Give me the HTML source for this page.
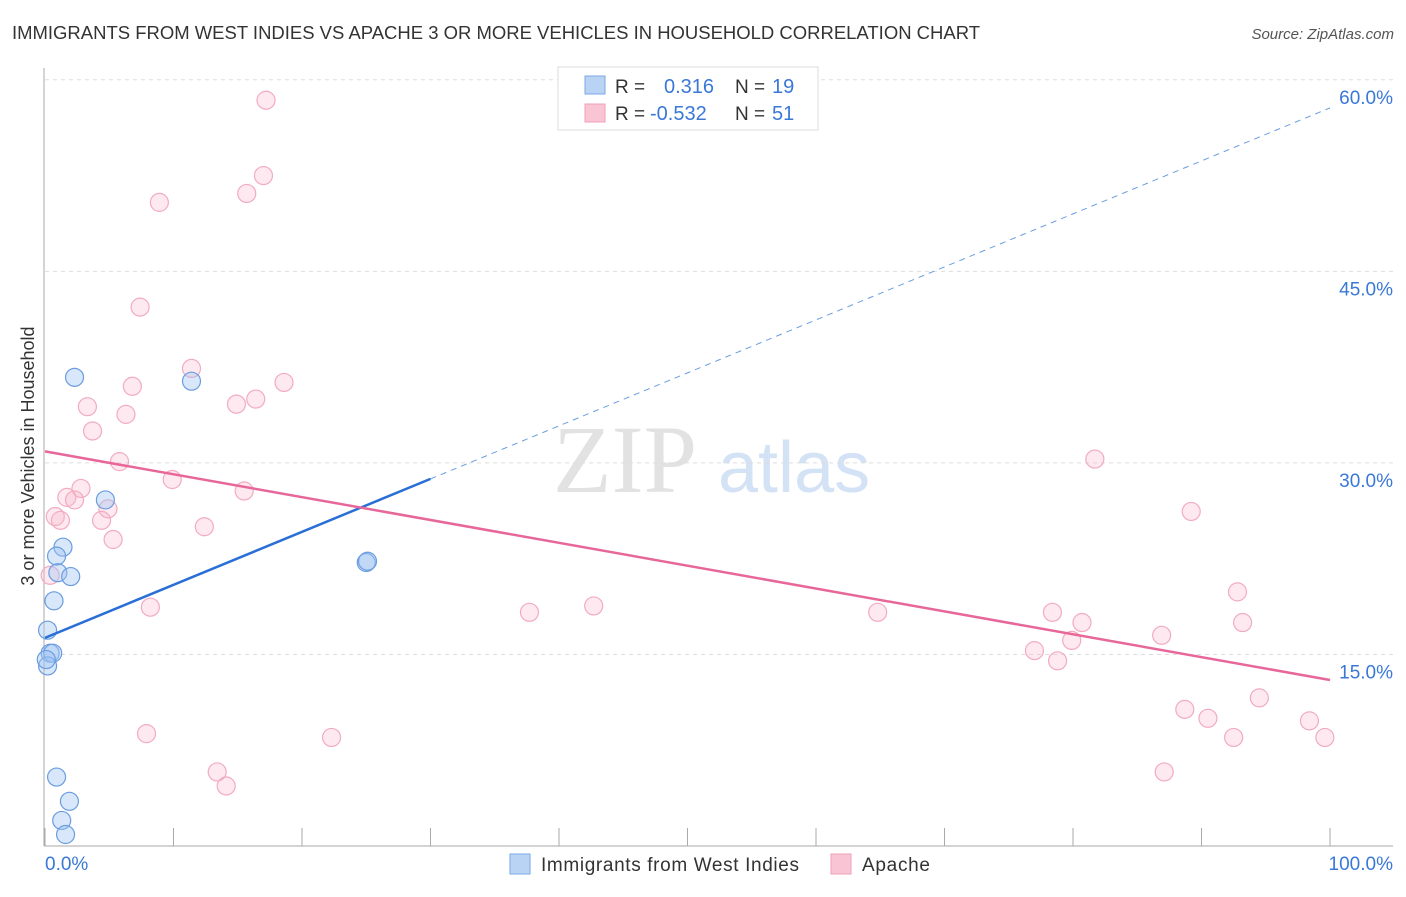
<!DOCTYPE html>
<html><head><meta charset="utf-8"><style>
body{margin:0;background:#fff;font-family:"Liberation Sans",sans-serif;}
</style></head><body>
<svg width="1406" height="892" viewBox="0 0 1406 892" xmlns="http://www.w3.org/2000/svg" font-family="Liberation Sans, sans-serif">
<text x="12" y="39" font-size="18" fill="#333" textLength="968" lengthAdjust="spacingAndGlyphs">IMMIGRANTS FROM WEST INDIES VS APACHE 3 OR MORE VEHICLES IN HOUSEHOLD CORRELATION CHART</text>
<text x="1394" y="39" font-size="15" fill="#555" text-anchor="end" font-style="italic">Source: ZipAtlas.com</text>
<text x="0" y="0" transform="translate(34,456) rotate(-90)" font-size="18" fill="#333" text-anchor="middle">3 or more Vehicles in Household</text>
<g><text x="553" y="492" font-size="96" font-family="Liberation Serif, serif" fill="#e2e2e2">ZIP</text><text x="718" y="492" font-size="72" fill="#d3e2f5">atlas</text></g>
<g id="grid"></g><g id="axes"></g><g id="marks"></g><g id="lines"></g>
<g>
<rect x="558" y="67" width="260" height="63" fill="#fff" stroke="#ddd"/>
<rect x="585" y="76" width="20" height="18" fill="#b9d3f5" stroke="#7aa7e6"/>
<rect x="585" y="104" width="20" height="18" fill="#f9c4d4" stroke="#f0a0b8"/>
<text x="615" y="93" font-size="19" fill="#333">R = </text><text x="664" y="93" font-size="20" fill="#3a78d8">0.316</text>
<text x="735" y="93" font-size="19" fill="#333">N = </text><text x="772" y="93" font-size="20" fill="#3a78d8">19</text>
<text x="615" y="120" font-size="19" fill="#333">R = </text><text x="650" y="120" font-size="20" fill="#3a78d8">-0.532</text>
<text x="735" y="120" font-size="19" fill="#333">N = </text><text x="772" y="120" font-size="20" fill="#3a78d8">51</text>
</g>
<g>
<rect x="510" y="854" width="20" height="20" fill="#b9d3f5" stroke="#7aa7e6"/>
<text x="541" y="871" font-size="19" fill="#333" textLength="258">Immigrants from West Indies</text>
<rect x="831" y="854" width="20" height="20" fill="#f9c4d4" stroke="#f0a0b8"/>
<text x="862" y="871" font-size="19" fill="#333" textLength="68">Apache</text>
</g>
</svg>
<script>
const xTicks=[0,10,20,30,40,50,60,70,80,90,100];
const yTicks=[15,30,45,60];
const yTickLabels=["15.0%","30.0%","45.0%","60.0%"];
const blueX=[2.3,11.4,4.7,1.4,0.9,1.0,2.0,0.7,0.2,0.4,0.6,0.2,25.0,25.1,0.9,1.9,1.3,1.6,0.1];
const blueY=[36.7,36.4,27.1,23.4,22.7,21.4,21.1,19.2,16.9,15.1,15.1,14.1,22.2,22.3,5.4,3.5,2.0,0.9,14.6];
const pinkX=[17.2,17.0,15.7,8.9,7.4,11.4,6.8,3.3,6.3,16.4,14.9,18.6,3.7,5.8,9.9,15.5,2.8,1.7,2.3,4.9,0.8,1.2,4.4,12.4,5.3,0.4,8.2,37.7,42.7,64.8,81.7,89.2,92.8,78.4,80.7,93.2,79.9,77.0,86.9,78.8,94.5,88.7,90.5,98.4,92.5,99.6,87.1,7.9,22.3,13.4,14.1];
const pinkY=[58.4,52.5,51.1,50.4,42.2,37.4,36.0,34.4,33.8,35.0,34.6,36.3,32.5,30.1,28.7,27.8,28.0,27.3,27.1,26.4,25.8,25.5,25.5,25.0,24.0,21.2,18.7,18.3,18.8,18.3,30.3,26.2,19.9,18.3,17.5,17.5,16.1,15.3,16.5,14.5,11.6,10.7,10.0,9.8,8.5,8.5,5.8,8.8,8.5,5.8,4.7];
const blueTrend=[16.3,57.8]; const blueSolidEnd=30;
const pinkTrend=[30.9,13.0];
const NS="http://www.w3.org/2000/svg";
const X=v=>45+v*12.85, Y=v=>846-v*12.77;
function mk(t,a,p){const e=document.createElementNS(NS,t);for(const k in a)e.setAttribute(k,a[k]);p.appendChild(e);return e;}
const grid=document.getElementById('grid'),axes=document.getElementById('axes'),marks=document.getElementById('marks'),lines=document.getElementById('lines');
yTicks.forEach((t,i)=>{
 const g=mk('line',{x1:45,x2:1393,y1:Y(t),y2:Y(t),stroke:'#ddd','stroke-dasharray':'4,4'},grid);
 
 
 const l=mk('text',{x:1393,y:Y(t)+24,'font-size':19,fill:'#3a78d8','text-anchor':'end'},axes);l.textContent=yTickLabels[i];
 
 
});
const ax=mk('line',{x1:44,x2:44,y1:68,y2:846,stroke:'#aaa'},axes);


const bx=mk('line',{x1:44,x2:1393,y1:846,y2:846,stroke:'#aaa'},axes);


xTicks.forEach(t=>{const l=mk('line',{x1:X(t),x2:X(t),y1:828,y2:846,stroke:'#aaa'},axes);
 
 });
const x0=mk('text',{x:45,y:870,'font-size':19,fill:'#3a78d8'},axes);x0.textContent='0.0%';


const x1=mk('text',{x:1393,y:870,'font-size':19,fill:'#3a78d8','text-anchor':'end'},axes);x1.textContent='100.0%';


pinkX.forEach((v,i)=>{const c=mk('circle',{cx:X(v),cy:Y(pinkY[i]),r:9,fill:'rgba(248,182,202,0.3)',stroke:'#f2abc1','stroke-width':1.2},marks);
 
 });
blueX.forEach((v,i)=>{const c=mk('circle',{cx:X(v),cy:Y(blueY[i]),r:9,fill:'rgba(160,196,242,0.4)',stroke:'#6a9de0','stroke-width':1.2},marks);
 
 });
const bt=v=>blueTrend[0]+(blueTrend[1]-blueTrend[0])*v/100;
const l1=mk('line',{x1:X(0),y1:Y(bt(0)),x2:X(blueSolidEnd),y2:Y(bt(blueSolidEnd)),stroke:'#2a6fd6','stroke-width':2.5},lines);


const l2=mk('line',{x1:X(blueSolidEnd),y1:Y(bt(blueSolidEnd)),x2:X(100),y2:Y(bt(100)),stroke:'#6a9de0','stroke-width':1,'stroke-dasharray':'6,5'},lines);


const l3=mk('line',{x1:X(0),y1:Y(pinkTrend[0]),x2:X(100),y2:Y(pinkTrend[1]),stroke:'#e8679a','stroke-width':2.5},lines);


</script>
</body></html>
